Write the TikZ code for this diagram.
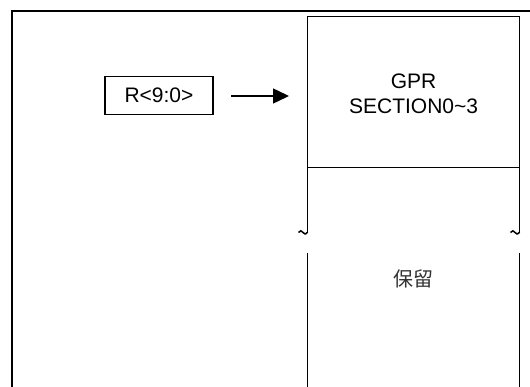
\documentclass[tikz,border=0pt]{standalone}
\usepackage{fontspec}
\setmainfont{Liberation Sans}
\newfontfamily\cjk{Noto Sans CJK SC}
\usetikzlibrary{arrows.meta}
\tikzset{
  frameline/.style={line width=2.2pt},
  boxline/.style={line width=1.6pt},
  regbox/.style={draw, boxline, minimum width=108pt, minimum height=38pt, inner sep=0pt,
    font=\fontsize{21}{25}\selectfont},
  label/.style={inner sep=0pt, align=center, font=\fontsize{21}{25}\selectfont},
  cjklabel/.style={inner sep=0pt, font=\cjk\fontsize{20}{24}\selectfont, text=black!80},
  arr/.style={line width=1.5pt, -{Triangle[length=16pt,width=15pt]}}
}
\begin{document}
\begin{tikzpicture}[x=1pt,y=-1pt]
\useasboundingbox (0,0) rectangle (530,387);
\clip (0,0) rectangle (530,387);
% outer frame
\draw[frameline] (12,400) -- (12,10.7) -- (545,10.7);
% input register box
\node[regbox] (r) at (159,95.5) {R<9:0>};
\coordinate (a1) at (231,96);
\coordinate (a2) at (289,96);
\draw[arr] (a1) -- (a2);
% GPR block
\coordinate (tl) at (307.6,16.7);
\coordinate (tr) at (519.6,16.7);
\coordinate (ml) at (307.6,167.7);
\coordinate (mr) at (519.6,167.7);
\draw[boxline] (ml) -- (tl) -- (tr) -- (mr);
\draw[boxline] (ml) -- (mr);
\node[label] (gpr) at (413.6,93.5) {GPR\\SECTION0\char"007E 3};
% broken continuation
\coordinate (bl) at (307.6,232);
\coordinate (br) at (519.6,232);
\draw[boxline] (ml) -- (bl);
\draw[boxline] (mr) -- (br);
\draw[line width=1.5pt] (bl) .. controls (306,234.5) and (304,234.5) .. (303,232.5)
  .. controls (302,230.5) and (300,230) .. (298.5,232.5);
\draw[line width=1.5pt] (br) .. controls (518,234.5) and (516,234.5) .. (515,232.5)
  .. controls (514,230.5) and (512,230) .. (510.5,232.5);
\coordinate (cl) at (307.6,253);
\coordinate (cr) at (519.6,253);
\draw[boxline] (cl) -- (307.6,395);
\draw[boxline] (cr) -- (519.6,395);
\node[cjklabel] (res) at (413.6,278.5) {保留};
\end{tikzpicture}
\end{document}
